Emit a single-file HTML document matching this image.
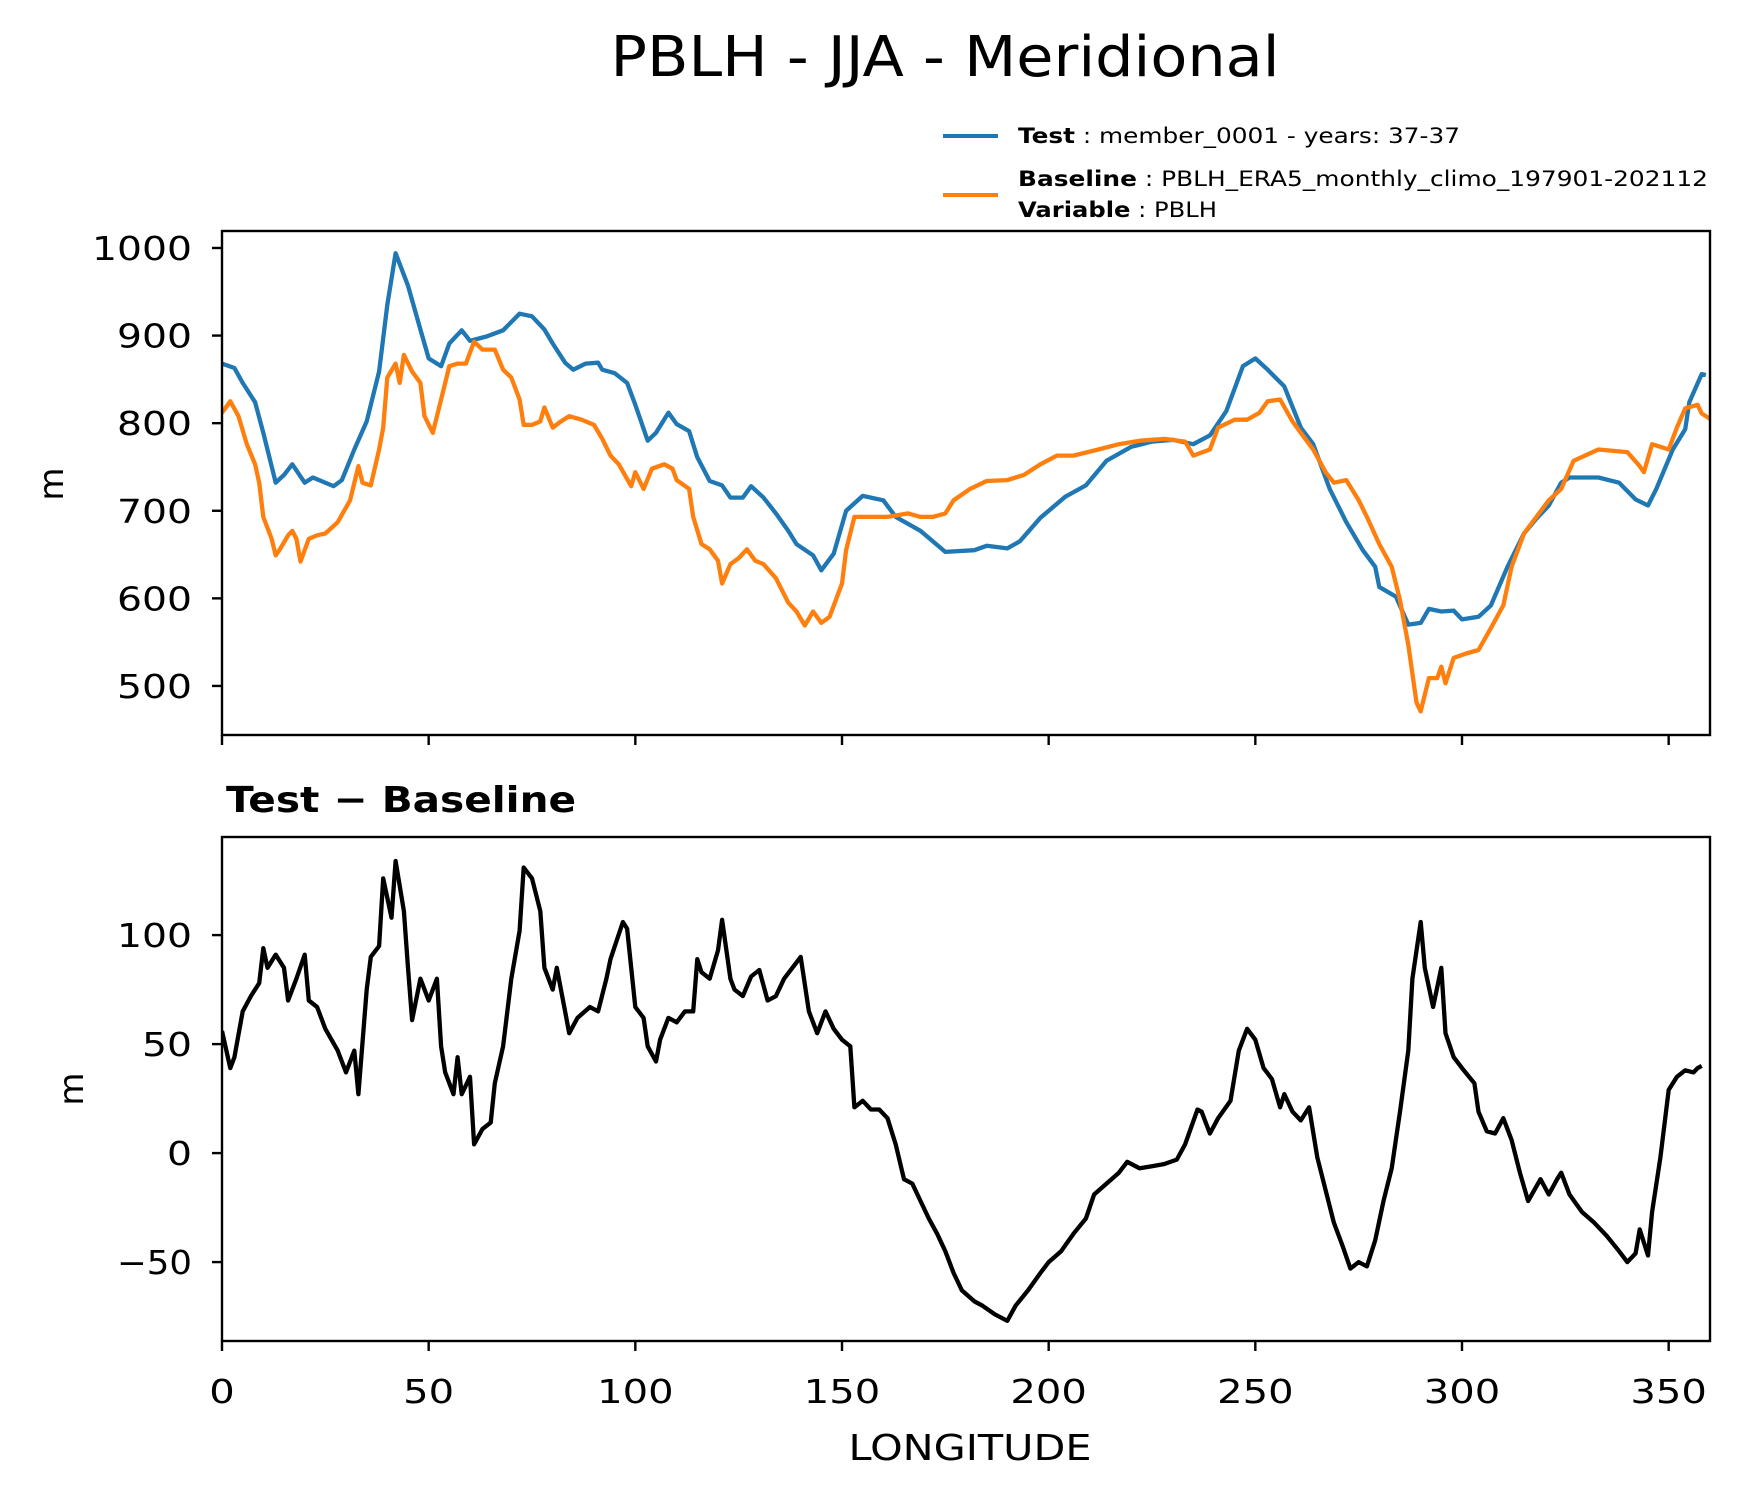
<!DOCTYPE html>
<html><head><meta charset="utf-8"><style>
body{margin:0;background:#fff}
svg{display:block;font-family:"DejaVu Sans","Liberation Sans",sans-serif}
</style></head><body>
<svg id="chart" width="1739" height="1496" viewBox="0 0 1739 1496" xmlns="http://www.w3.org/2000/svg">
<rect width="1739" height="1496" fill="#fff"/>
<text x="945" y="76" font-size="56" text-anchor="middle" textLength="669" lengthAdjust="spacingAndGlyphs">PBLH - JJA - Meridional</text>
<g font-size="21">
<line x1="943" y1="136" x2="998" y2="136" stroke="#1f77b4" stroke-width="4"/>
<text x="1018" y="143" textLength="442" lengthAdjust="spacingAndGlyphs"><tspan font-weight="bold">Test</tspan> : member_0001 - years: 37-37</text>
<line x1="943" y1="195" x2="998" y2="195" stroke="#ff7f0e" stroke-width="4"/>
<text x="1018" y="186" textLength="690" lengthAdjust="spacingAndGlyphs"><tspan font-weight="bold">Baseline</tspan> : PBLH_ERA5_monthly_climo_197901-202112</text>
<text x="1018" y="217" textLength="199" lengthAdjust="spacingAndGlyphs"><tspan font-weight="bold">Variable</tspan> : PBLH</text>
</g>
<g id="topPanel"></g>
<g id="botPanel"></g>
<text transform="translate(63,484) rotate(-90)" font-size="34" text-anchor="middle">m</text>
<text transform="translate(83,1089) rotate(-90)" font-size="34" text-anchor="middle">m</text>
<text x="226" y="812" font-size="36" font-weight="bold" textLength="350" lengthAdjust="spacingAndGlyphs">Test − Baseline</text>
<text x="970" y="1460" font-size="36" text-anchor="middle" textLength="243" lengthAdjust="spacingAndGlyphs">LONGITUDE</text>
</svg>
<script>
const testLon=[0,3,5,8,10,12,13,15,17,20,22,27,29,32,35,38,40,42,45,48,50,53,55,58,60,64,68,72,75,78,80,83,85,88,91,92,95,98,100,103,105,108,110,113,115,118,121,123,126,128,131,134,137,139,143,145,148,151,155,160,163,169,175,182,185,190,193,198,204,209,214,220,225,230,235,239,243,247,250,253,257,261,264,268,272,276,279,280,284,287,290,292,295,298,300,304,307,311,315,318,321,324,326,333,338,342,345,347,351,354,355,358,359];
const testVal=[868,863,846,824,789,751,732,741,753,732,738,728,735,770,802,859,935,994,957,907,874,865,891,906,894,899,906,925,922,907,891,869,861,868,869,861,857,846,821,780,789,812,799,791,761,734,729,715,715,728,715,697,677,662,649,632,651,700,717,712,693,677,653,655,660,657,665,692,716,729,757,773,779,781,776,786,814,865,874,861,842,795,776,725,687,655,636,613,602,570,572,588,585,586,576,579,592,636,674,691,706,732,738,738,732,713,706,725,770,793,824,856,855];
const baseLon=[0,2,4,6,8,9,10,12,13,14,16,17,18,19,21,23,25,28,31,33,34,36,38,39,40,42,43,44,46,48,49,51,53,55,57,59,61,63,66,68,70,72,73,75,77,78,80,82,84,87,90,92,94,96,99,100,102,104,107,109,110,113,114,116,118,120,121,123,125,127,129,131,134,137,139,141,143,145,147,150,151,153,156,161,166,169,172,175,177,181,185,190,194,198,202,206,212,217,222,228,233,235,239,241,245,248,251,253,256,259,261,264,267,269,272,275,277,280,283,285,287,289,290,292,294,295,296,298,301,304,307,310,312,315,318,321,324,327,333,340,343,344,346,348,350,352,354,357,358,360];
const baseVal=[812,825,808,776,753,732,693,668,649,656,672,677,668,642,668,672,674,687,712,751,732,729,770,795,852,868,846,878,859,846,808,789,827,865,868,868,893,884,884,861,852,827,798,798,802,818,795,802,808,804,798,782,763,753,728,744,725,748,753,748,735,725,693,662,656,643,617,639,646,656,643,639,623,595,585,569,585,572,579,617,655,693,693,693,697,693,693,697,712,725,734,735,741,753,763,763,770,776,780,782,779,763,770,795,804,804,812,825,827,802,789,770,744,732,735,712,693,662,636,598,547,481,471,509,509,522,503,532,537,541,566,592,636,674,693,712,725,757,770,767,751,744,776,773,770,795,817,821,811,805];
const diffLon=[0,2,3,5,7,9,10,11,13,15,16,18,20,21,23,25,28,30,32,33,35,36,38,39,41,42,44,45,46,48,50,52,53,54,56,57,58,60,61,63,65,66,68,70,72,73,75,77,78,80,81,83,84,86,89,91,93,94,97,98,100,102,103,105,106,108,110,112,114,115,116,118,120,121,123,124,126,128,130,132,134,136,138,140,142,144,146,148,150,152,153,155,157,159,161,163,165,167,169,171,173,175,177,179,182,184,187,190,192,195,198,200,203,206,209,211,214,217,219,222,225,228,231,233,236,237,239,241,244,246,248,250,252,254,256,257,259,261,263,265,267,269,271,273,275,277,279,281,283,285,287,288,290,291,293,295,296,298,300,303,304,306,308,310,312,314,316,319,321,323,324,326,329,332,335,338,340,342,343,345,346,348,350,352,354,356,357,358];
const diffVal=[56,39,44,65,72,78,94,85,91,85,70,80,91,70,67,57,47,37,47,27,75,90,95,126,108,134,111,85,61,80,70,80,49,37,27,44,27,35,4,11,14,32,49,80,102,131,126,111,85,75,85,65,55,62,67,65,80,89,106,103,67,62,49,42,52,62,60,65,65,89,83,80,93,107,80,75,72,81,84,70,72,80,85,90,65,55,65,57,52,49,21,24,20,20,16,4,-12,-14,-22,-30,-37,-45,-55,-63,-68,-70,-74,-77,-70,-63,-55,-50,-45,-37,-30,-19,-14,-9,-4,-7,-6,-5,-3,4,20,19,9,16,24,47,57,52,39,34,21,27,19,15,21,-2,-17,-32,-42,-53,-50,-52,-40,-22,-7,19,47,80,106,85,67,85,55,44,39,32,19,10,9,16,6,-9,-22,-12,-19,-12,-9,-19,-27,-32,-38,-45,-50,-46,-35,-47,-27,-2,29,35,38,37,39,40];
const xTicks=[0,50,100,150,200,250,300,350];
const topTicks=[500,600,700,800,900,1000];
const botTicks=[-50,0,50,100];

const NS="http://www.w3.org/2000/svg";
const X0=222,X1=1710;
const xs=v=>X0+(v/360)*(X1-X0);
const TY0=231,TY1=735,TMAX=1019.4,TMIN=444;
const yt=v=>TY0+(TMAX-v)/(TMAX-TMIN)*(TY1-TY0);
const BY0=837,BY1=1341,BMAX=145,BMIN=-86.2;
const yb=v=>BY0+(BMAX-v)/(BMAX-BMIN)*(BY1-BY0);
function el(tag,attrs,parent){const e=document.createElementNS(NS,tag);for(const k in attrs)e.setAttribute(k,attrs[k]);parent.appendChild(e);return e;}
function series(parent,lons,vals,yf,color,name){
  const d=lons.map((l,i)=>(i?'L':'M')+xs(l).toFixed(1)+','+yf(vals[i]).toFixed(1)).join(' ');
  const p=el('path',{d:d,fill:'none',stroke:color,'stroke-width':4.3,'stroke-linejoin':'round'},parent);
  
  
}
function axes(parent,y0,y1,yf,yt_,labelX,prefix){
  const cp=prefix+'clip';
  const c=el('clipPath',{id:cp},parent);el('rect',{x:X0,y:y0,width:X1-X0,height:y1-y0},c);
  const g=el('g',{'clip-path':'url(#'+cp+')'},parent);
  yt_.forEach(t=>{
    const y=yf(t);
    const tk=el('line',{x1:X0-10,x2:X0,y1:y,y2:y,stroke:'#000','stroke-width':2.4},parent);
    
    
    const s=t<0?'−'+(-t):String(t);
    const tx=el('text',{x:X0-30,y:y+12,'font-size':33,'text-anchor':'end',textLength:s.length*25,lengthAdjust:'spacingAndGlyphs'},parent);
    
    
    tx.textContent=s;
  });
  xTicks.forEach(t=>{
    const x=xs(t);
    const tk=el('line',{x1:x,x2:x,y1:y1,y2:y1+10,stroke:'#000','stroke-width':2.4},parent);
    
    
    if(labelX){
      const s=String(t);
      const tx=el('text',{x:x,y:y1+62,'font-size':33,'text-anchor':'middle',textLength:s.length*25.5,lengthAdjust:'spacingAndGlyphs'},parent);
      
      
      tx.textContent=s;
    }
  });
  return g;
}
const topP=document.getElementById('topPanel');
const gt=axes(topP,TY0,TY1,yt,topTicks,false,'top-');
series(gt,testLon,testVal,yt,'#1f77b4','test-line');
series(gt,baseLon,baseVal,yt,'#ff7f0e','baseline-line');
const fr1=el('rect',{x:X0,y:TY0,width:X1-X0,height:TY1-TY0,fill:'none',stroke:'#000','stroke-width':2.4},topP);


const botP=document.getElementById('botPanel');
const gb=axes(botP,BY0,BY1,yb,botTicks,true,'bottom-');
series(gb,diffLon,diffVal,yb,'#000','difference-line');
const fr2=el('rect',{x:X0,y:BY0,width:X1-X0,height:BY1-BY0,fill:'none',stroke:'#000','stroke-width':2.4},botP);


</script>
</body></html>
